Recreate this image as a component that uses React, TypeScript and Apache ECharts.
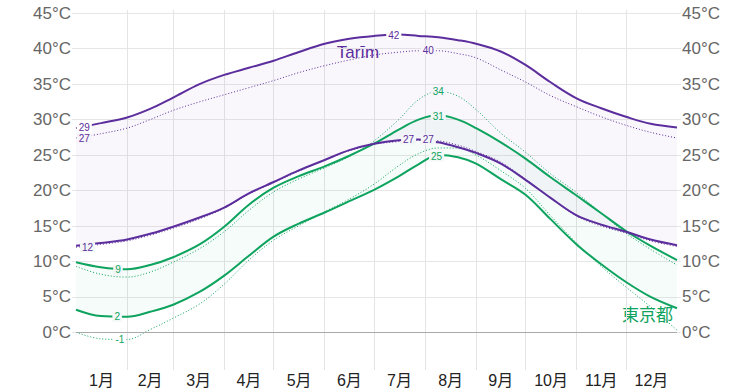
import React, { useEffect, useRef } from 'react';
import * as echarts from 'echarts';

const days = [0, 15, 31, 45, 59, 75, 90, 105, 120, 135, 151, 166, 181, 196, 208, 220, 232, 243, 258, 273, 288, 304, 319, 334, 349, 365];

const tarimHigh = [28.8, 29.5, 30.3, 31.5, 33.1, 35.0, 36.3, 37.3, 38.3, 39.5, 40.7, 41.4, 41.8, 42.0, 41.8, 41.6, 41.2, 40.7, 39.6, 37.7, 35.3, 33.0, 31.6, 30.4, 29.4, 28.9];
const tarimHighFeel = [27.4, 28.0, 28.8, 30.0, 31.3, 32.5, 33.5, 34.5, 35.5, 36.6, 37.6, 38.4, 39.1, 39.5, 39.7, 39.7, 39.3, 38.7, 37.0, 35.3, 33.4, 31.8, 30.4, 29.2, 28.2, 27.4];
const tarimLow = [12.2, 12.6, 13.1, 13.9, 14.9, 16.2, 17.6, 19.6, 21.2, 22.8, 24.3, 25.7, 26.6, 27.1, 27.2, 26.8, 26.1, 25.3, 23.8, 21.5, 19.0, 16.5, 15.2, 14.2, 13.1, 12.3];
const tarimLowFeel = [12.0, 12.4, 12.9, 13.7, 14.7, 16.0, 17.5, 19.5, 21.1, 22.7, 24.3, 25.6, 26.5, 26.9, 27.1, 27.0, 26.4, 25.5, 24.0, 21.6, 19.0, 16.4, 15.0, 14.0, 12.9, 12.1];

const tokyoHigh = [9.9, 9.2, 8.9, 9.5, 10.6, 12.4, 14.9, 18.0, 20.4, 22.0, 23.4, 24.9, 26.6, 28.6, 30.0, 30.6, 30.0, 28.8, 26.8, 24.5, 21.9, 19.3, 16.8, 14.3, 12.2, 10.2];
const tokyoHighFeel = [9.3, 8.2, 7.8, 8.5, 9.9, 11.8, 14.2, 17.2, 19.8, 21.6, 23.2, 24.8, 27.0, 30.0, 32.8, 34.0, 33.3, 31.4, 28.1, 25.4, 22.4, 19.7, 16.8, 14.0, 11.7, 9.5];
const tokyoLow = [3.2, 2.3, 2.2, 2.9, 3.9, 5.7, 8.0, 10.8, 13.5, 15.3, 16.9, 18.5, 20.1, 22.0, 23.7, 25.0, 24.7, 23.8, 21.6, 19.4, 16.0, 12.4, 9.6, 7.1, 5.0, 3.4];
const tokyoLowFeel = [0.0, -0.9, -1.0, 0.4, 2.0, 4.0, 6.8, 10.2, 13.0, 15.0, 17.0, 18.8, 20.9, 23.5, 25.2, 26.0, 26.0, 25.0, 22.8, 20.3, 16.5, 12.6, 9.3, 6.4, 3.6, 0.3];

const monthLabels = ['1月', '2月', '3月', '4月', '5月', '6月', '7月', '8月', '9月', '10月', '11月', '12月'];
const monthStarts = [31, 59, 90, 120, 151, 181, 212, 243, 273, 304, 334];
const monthMids = [15.5, 45, 74.5, 105, 135.5, 166, 196.5, 227.5, 258, 288.5, 319, 349.5];
const yTicks = [0, 5, 10, 15, 20, 25, 30, 35, 40, 45];

// value labels: [day, value, text]
const tarimHighLabels: [number, number, string][] = [[5, 28.9, '29'], [193, 41.9, '42']];
const tarimHighFeelLabels: [number, number, string][] = [[5, 27.3, '27'], [214, 39.8, '40']];
const tarimLowLabels: [number, number, string][] = [[7, 12.0, '12'], [202, 27.2, '27']];
const tarimLowFeelLabels: [number, number, string][] = [[214, 27.2, '27']];
const tokyoHighLabels: [number, number, string][] = [[25.5, 8.8, '9'], [220, 30.5, '31']];
const tokyoHighFeelLabels: [number, number, string][] = [[220, 34.0, '34']];
const tokyoLowLabels: [number, number, string][] = [[25, 2.2, '2'], [219, 24.8, '25']];
const tokyoLowFeelLabels: [number, number, string][] = [[26.7, -0.95, '-1']];

const PURPLE = '#5c2d9c';
const GREEN = '#0ea35e';
const FONT = '"Liberation Sans", "Noto Sans CJK JP", sans-serif';
const SMOOTH = 0.35;

const pairs = (ys: number[]) => days.map((d, i) => [d, ys[i]]);
// for stacking: value first so that the stacked dimension is y
const yFirst = (ys: number[]) => days.map((d, i) => [ys[i], d]);
const diffYFirst = (hi: number[], lo: number[]) => days.map((d, i) => [+(hi[i] - lo[i]).toFixed(2), d]);

function labelPoints(items: [number, number, string][], color: string, bg: string) {
  return {
    symbol: 'rect',
    symbolSize: 0,
    silent: true,
    data: items.map(([x, y, t]) => ({ coord: [x, y], value: t })),
    label: {
      show: true,
      position: 'inside',
      formatter: (p: any) => p.value,
      color,
      fontSize: 10,
      fontFamily: FONT,
      backgroundColor: bg,
      padding: [0, 2, 0, 2],
      lineHeight: 10,
    },
  };
}

function line(name: string, ys: number[], color: string, dotted: boolean, labels: [number, number, string][], bg: string) {
  return {
    name,
    type: 'line',
    data: pairs(ys),
    smooth: SMOOTH,
    showSymbol: false,
    symbol: 'none',
    silent: true,
    lineStyle: dotted ? { color, width: 1, type: [1, 2] } : { color, width: 2 },
    itemStyle: { color },
    markPoint: labelPoints(labels, color, bg),
    z: dotted ? 3 : 4,
  };
}

function band(name: string, stack: string, data: number[][], fill: string | null) {
  return {
    name,
    type: 'line',
    stack,
    data,
    encode: { x: 1, y: 0 },
    smooth: SMOOTH,
    showSymbol: false,
    symbol: 'none',
    silent: true,
    lineStyle: { opacity: 0, width: 0 },
    areaStyle: fill ? { color: fill } : undefined,
    z: 1,
  };
}

export default function App() {
  const ref = useRef<HTMLDivElement>(null);
  useEffect(() => {
    if (!ref.current) return;
    const chart = echarts.init(ref.current, undefined, { renderer: 'svg' });
    const yAxisBase = {
      type: 'value',
      min: -5.3,
      max: 45.45,
      axisLine: { show: false },
      axisTick: { show: true, length: 4, lineStyle: { color: '#e6e6e6' }, customValues: yTicks },
      axisLabel: {
        customValues: yTicks,
        formatter: (v: number) => `${v}°C`,
        color: '#666',
        fontSize: 17,
        fontFamily: FONT,
        margin: 5,
      },
    };
    const tarimBase: any = band('tarimBase', 'tarim', yFirst(tarimLow), null);
    tarimBase.markLine = {
      silent: true,
      symbol: ['none', 'none'],
      label: { show: false },
      lineStyle: { color: '#aaa', width: 1, type: 'solid' },
      data: [{ yAxis: 0 }],
    };
    chart.setOption({
      animation: false,
      backgroundColor: '#fff',
      grid: { left: 76, right: 76, top: 10, bottom: 22, containLabel: false },
      xAxis: {
        type: 'value',
        min: 0,
        max: 365,
        axisLine: { show: false },
        axisTick: { show: false, customValues: monthStarts },
        splitLine: { show: true, lineStyle: { color: '#e4e4e4' } },
        axisLabel: {
          customValues: monthMids,
          formatter: (v: number) => {
            let best = 0;
            monthMids.forEach((m, i) => {
              if (Math.abs(m - v) < Math.abs(monthMids[best] - v)) best = i;
            });
            return monthLabels[best];
          },
          color: '#222',
          fontSize: 16,
          fontFamily: FONT,
          margin: 2,
        },
      },
      yAxis: [
        { ...yAxisBase, position: 'left', splitLine: { show: true, lineStyle: { color: '#e6e6e6' } } },
        { ...yAxisBase, position: 'right', splitLine: { show: false } },
      ],
      graphic: [
        {
          type: 'text',
          x: 358,
          y: 52,
          style: { text: 'Tarīm', fill: PURPLE, font: `17px ${FONT}`, align: 'center', verticalAlign: 'middle' },
        },
        {
          type: 'text',
          x: 673,
          y: 315,
          style: { text: '東京都', fill: GREEN, font: `17px ${FONT}`, align: 'right', verticalAlign: 'middle' },
        },
      ],
      series: [
        tarimBase,
        band('tarimBand', 'tarim', diffYFirst(tarimHigh, tarimLow), 'rgba(100,60,170,0.055)'),
        band('tokyoBase', 'tokyo', yFirst(tokyoLow), null),
        band('tokyoBand', 'tokyo', diffYFirst(tokyoHigh, tokyoLow), 'rgba(10,160,90,0.05)'),
        line('Tokyo low feel', tokyoLowFeel, GREEN, true, tokyoLowFeelLabels, '#ffffff'),
        line('Tokyo high feel', tokyoHighFeel, GREEN, true, tokyoHighFeelLabels, '#f7f5fb'),
        line('Tokyo low', tokyoLow, GREEN, false, tokyoLowLabels, '#f4f8f8'),
        line('Tokyo high', tokyoHigh, GREEN, false, tokyoHighLabels, '#f3f6f7'),
        line('Tarim low feel', tarimLowFeel, PURPLE, true, tarimLowFeelLabels, '#f3f6f7'),
        line('Tarim low', tarimLow, PURPLE, false, tarimLowLabels, '#f3f6f7'),
        line('Tarim high feel', tarimHighFeel, PURPLE, true, tarimHighFeelLabels, '#f7f5fb'),
        line('Tarim high', tarimHigh, PURPLE, false, tarimHighLabels, '#ffffff'),
      ],
    });
    return () => chart.dispose();
  }, []);
  return (
    <div
      ref={ref}
      style={{ position: 'fixed', left: 0, top: 0, width: 753, height: 392, background: '#fff' }}
    />
  );
}
